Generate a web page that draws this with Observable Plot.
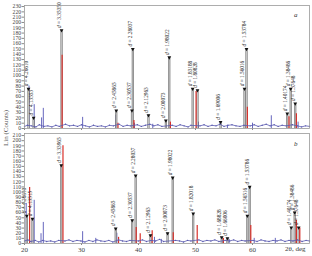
<!DOCTYPE html>
<html><head><meta charset="utf-8">
<script src="https://cdn.jsdelivr.net/npm/d3@7"></script>
<script src="https://cdn.jsdelivr.net/npm/@observablehq/plot@0.6"></script>
<style>
body{margin:0;background:#fff;}
#wrap{position:relative;width:312px;height:256px;overflow:hidden;}
#wrap svg{display:block;}
#ylab{position:absolute;left:6px;top:128px;transform:translate(-50%,-50%) rotate(-90deg);font:7px "Liberation Serif",serif;color:#555;white-space:nowrap;}
</style></head><body><div id="wrap"><div id="ylab">Lin (Counts)</div></div>
<script>
const xTicks = [20, 30, 40, 50, 60];
const topYTicks = [0,10,20,30,40,50,60,70,80,90,100,110,120,130,140,150,160,170,180,190,200,210,220,230];
const botYTicks = [0,10,20,30,40,50,60,70,80,90,100,110,120,130,140,150,160,170,180,190,200,210];

// Panel a: labelled peaks
const topPeakTheta  = [20.7, 21.6, 26.5, 36.1, 38.85, 39.0, 41.75, 44.8, 45.4, 49.5, 50.35, 54.4, 58.6, 58.95, 66.1, 66.7, 67.5];
const topPeakCounts = [75, 20, 185, 34, 34, 150, 25, 15, 134, 75, 72, 12, 75, 150, 28, 75, 47];
const topPeakLabels = ["d = 4.26610","d = 4.13553","d = 3.35350","d = 2.45865","d = 2.30537","d = 2.28037","d = 2.12963","d = 2.00073","d = 1.98022","d = 1.83188","d = 1.80828","d = 1.69006","d = 1.56016","d = 1.53784","d = 1.40174","d = 1.38486","d = 1.37648"];
const topRedTheta  = [26.6, 36.4, 39.2, 45.6, 50.1, 59.1, 66.4, 67.7];
const topRedCounts = [138, 10, 15, 12, 70, 40, 22, 28];
const topBlueTheta  = [20.8, 21.7, 23.0, 23.3, 30.2, 36.0, 39.3, 42.5, 50.5, 55.6, 60.0, 63.3, 68.0];
const topBlueCounts = [80, 45, 20, 38, 21, 25, 10, 8, 12, 6, 10, 24, 12];
const topNoise = [[20,4],[20.5,6],[21.2,5],[22,3],[22.6,7],[23.4,4],[24.1,5],[24.8,3],[25.5,6],[26.1,4],[27.2,8],[27.9,5],[28.6,6],[29.3,4],[30,7],[30.7,5],[31.4,3],[32.1,6],[32.8,4],[33.5,5],[34.2,3],[34.9,6],[35.6,5],[36.6,8],[37.3,4],[38,6],[38.6,5],[39.8,7],[40.5,4],[41.2,6],[42,8],[42.7,5],[43.4,7],[44.1,4],[45.9,6],[46.6,4],[47.3,7],[48,5],[48.7,3],[49.2,6],[50.8,5],[51.5,7],[52.2,4],[52.9,6],[53.6,5],[54.3,8],[55,4],[55.7,6],[56.4,7],[57.1,5],[57.8,4],[58.5,6],[59.6,5],[60.3,7],[61,4],[61.7,6],[62.4,8],[63.1,5],[63.8,7],[64.5,4],[65.2,6],[65.9,5],[67,7],[67.9,5],[68.6,3],[69.3,5],[70,4]];

// Panel b
const botPeakTheta  = [20.4, 21.4, 26.45, 36.0, 38.9, 39.5, 42.1, 45.1, 46.0, 49.6, 54.6, 55.6, 59.1, 59.5, 66.8, 67.4, 68.1];
const botPeakCounts = [54, 48, 152, 29, 45, 132, 16, 20, 128, 58, 12, 10, 54, 110, 31, 60, 31];
const botPeakLabels = ["d = 4.26610","d = 4.13515","d = 3.33965","d = 2.45865","d = 2.30537","d = 2.28037","d = 2.12963","d = 2.00073","d = 1.98022","d = 1.82018","d = 1.68828","d = 1.66006","d = 1.56516","d = 1.53786","d = 1.40174","d = 1.38486","d = 1.37648"];
const botRedTheta  = [20.9, 26.75, 36.5, 39.6, 40.3, 42.4, 46.1, 50.3, 54.9, 59.7, 67.7, 68.3];
const botRedCounts = [109, 190, 12, 31, 19, 25, 21, 35, 10, 35, 45, 30];
const botBlueTheta  = [20.3, 21.7, 22.9, 23.3, 30.2, 32.5, 36.2, 42.8, 44.0, 55.9, 60.3, 64.0];
const botBlueCounts = [78, 84, 19, 41, 23, 10, 20, 12, 8, 8, 10, 10];
const botNoise = [[20,5],[20.6,7],[21.1,4],[21.9,6],[22.5,3],[23.2,6],[23.9,4],[24.6,5],[25.3,3],[26,6],[27.1,5],[27.8,7],[28.5,4],[29.2,6],[29.9,5],[30.6,3],[31.3,6],[32,4],[32.7,7],[33.4,5],[34.1,4],[34.8,6],[35.5,3],[36.5,7],[37.2,5],[37.9,4],[38.5,6],[40,5],[40.7,7],[41.4,4],[42.2,6],[43,5],[43.7,8],[44.4,4],[46.5,6],[47.2,5],[47.9,3],[48.6,6],[49.2,5],[50.6,7],[51.3,4],[52,6],[52.7,5],[53.4,7],[54.1,4],[55.2,6],[56,5],[56.7,7],[57.4,4],[58.1,6],[58.7,5],[60.1,6],[60.8,4],[61.5,7],[62.2,5],[62.9,4],[63.6,6],[64.3,5],[65,7],[65.7,4],[66.4,6],[67.1,5],[67.9,7],[68.7,4],[69.4,6],[70,5]];

const zip = (a, b) => a.map((t, i) => ({t, c: b[i]}));
const zip3 = (a, b, l) => a.map((t, i) => ({t, c: b[i], label: l[i]}));

function panel(o) {
  const peaks = zip3(o.pt, o.pc, o.pl);
  const red = zip(o.rt, o.rc);
  const blue = zip(o.bt, o.bc);
  return Plot.plot({
    width: 312, height: o.height,
    marginLeft: 24, marginRight: 3, marginTop: o.mt, marginBottom: o.mb,
    x: {domain: [20, 70]},
    y: {domain: o.yDomain},
    style: {fontFamily: "Liberation Serif, serif", fontSize: "6px", color: "#444", background: "#fff"},
    marks: [
      Plot.axisY({ticks: o.yTicks, tickSize: 2.5, tickPadding: 1, fontSize: 5.6, stroke: "#888", label: null}),
      o.showX
        ? Plot.axisX({ticks: xTicks, tickSize: 2, tickPadding: 2, fontSize: 7, stroke: "#888", label: null})
        : Plot.axisX({ticks: xTicks, tickSize: 2, tickFormat: () => "", stroke: "#888", label: null}),
      Plot.ruleX(blue, {x: "t", y1: 0, y2: "c", stroke: "#5555b5", strokeWidth: 0.9}),
      Plot.ruleX(peaks, {x: "t", y1: 0, y2: "c", stroke: "#6a6a6a", strokeWidth: 2.1}),
      Plot.ruleX(peaks, {x: "t", y1: 0, y2: "c", stroke: "#c4c4c4", strokeWidth: 1.0}),
      Plot.ruleX(red, {x: "t", y1: 0, y2: "c", stroke: "#d8302a", strokeWidth: 1.2}),
      Plot.line(o.noise, {x: d => d[0], y: d => d[1], stroke: "#5a5ab0", strokeWidth: 0.8}),
      Plot.dot(o.noise, {x: d => d[0], y: d => d[1], r: 0.7, fill: "#5a5ab0", stroke: null}),
      Plot.dot(peaks, {x: "t", y: "c", symbol: "triangle", rotate: 180, r: 1.4, fill: "#111", stroke: null}),
      Plot.text(peaks, {x: "t", y: "c", text: "label", rotate: -90, textAnchor: "start", lineAnchor: "bottom", dy: -2.5, dx: -0.5, fontSize: 5.3, fill: "#222"}),
      Plot.text([o.letter], {frameAnchor: "top-right", dx: -12, dy: o.letterDy, fontStyle: "italic", fontSize: 7, fill: "#333"}),
      o.showX ? Plot.text(["2θ, deg"], {frameAnchor: "bottom-right", textAnchor: "end", dx: -4, dy: 7.5, fontSize: 7, fill: "#333"}) : null,
      Plot.frame({stroke: "#999", strokeWidth: 0.8})
    ].filter(Boolean)
  });
}

const topPlot = panel({height: 131, mt: 5, mb: 3, yDomain: [0, 232], yTicks: topYTicks,
  pt: topPeakTheta, pc: topPeakCounts, pl: topPeakLabels, rt: topRedTheta, rc: topRedCounts,
  bt: topBlueTheta, bc: topBlueCounts, noise: topNoise, letter: "a", letterDy: 7, showX: false});
const botPlot = panel({height: 125, mt: 2, mb: 13, yDomain: [0, 214], yTicks: botYTicks,
  pt: botPeakTheta, pc: botPeakCounts, pl: botPeakLabels, rt: botRedTheta, rc: botRedCounts,
  bt: botBlueTheta, bc: botBlueCounts, noise: botNoise, letter: "b", letterDy: 8, showX: true});

const wrap = document.getElementById("wrap");
wrap.insertBefore(botPlot, wrap.firstChild);
wrap.insertBefore(topPlot, wrap.firstChild);

const ns = "http://www.w3.org/2000/svg";
wrap.querySelectorAll("text").forEach(t => {
  const s = t.textContent;
  if (s.startsWith("d = ")) {
    t.textContent = "";
    const it = document.createElementNS(ns, "tspan");
    it.setAttribute("font-style", "italic");
    it.textContent = "d";
    t.append(it, s.slice(1));
  }
});
</script>
</body></html>
